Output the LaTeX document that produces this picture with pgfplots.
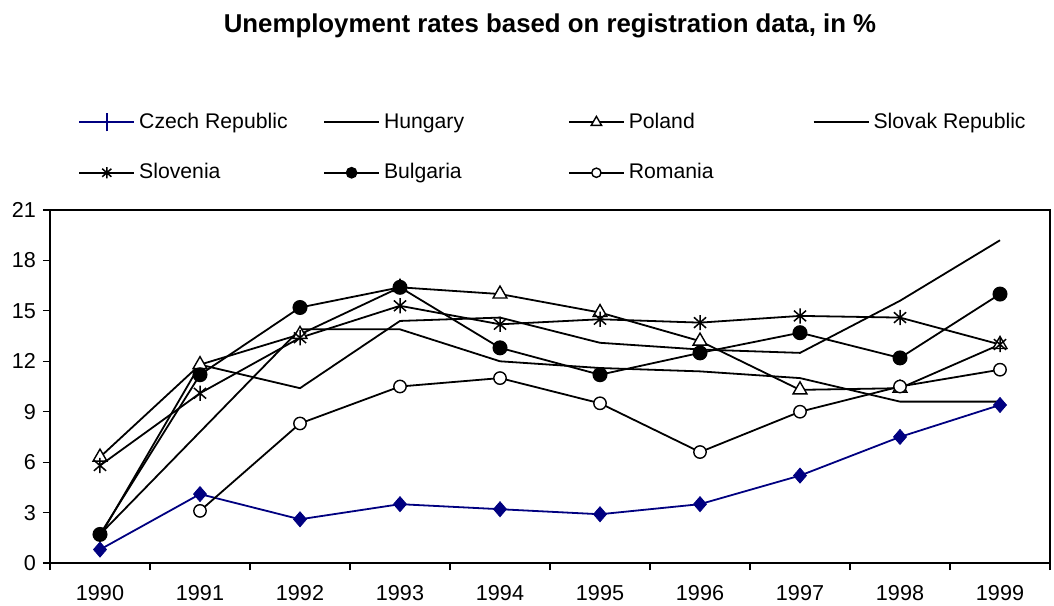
\documentclass[border=0pt]{standalone}
\usepackage{fontspec}
\setmainfont{Liberation Sans}
\usepackage{pgfplots}
\pgfplotsset{compat=1.18}
\definecolor{czech}{RGB}{0,0,128}

% Excel-like star: vertical bar plus an X
\pgfdeclareplotmark{xlstar}{%
    \pgfpathmoveto{\pgfqpoint{0pt}{\pgfplotmarksize}}%
    \pgfpathlineto{\pgfqpoint{0pt}{-\pgfplotmarksize}}%
    \pgfpathmoveto{\pgfqpoint{-.8\pgfplotmarksize}{.7\pgfplotmarksize}}%
    \pgfpathlineto{\pgfqpoint{.8\pgfplotmarksize}{-.7\pgfplotmarksize}}%
    \pgfpathmoveto{\pgfqpoint{-.8\pgfplotmarksize}{-.7\pgfplotmarksize}}%
    \pgfpathlineto{\pgfqpoint{.8\pgfplotmarksize}{.7\pgfplotmarksize}}%
    \pgfusepathqstroke}

\begin{document}
\begin{tikzpicture}
\begin{axis}[
    scale only axis,
    width=500pt, height=176.5pt,
    xmin=-0.5, xmax=9.5,
    ymin=0, ymax=21,
    xtick={-0.5,0.5,1.5,2.5,3.5,4.5,5.5,6.5,7.5,8.5,9.5},
    x tick label as interval,
    xticklabels={1990,1991,1992,1993,1994,1995,1996,1997,1998,1999},
    ytick={0,3,...,21},
    tick align=outside,
    tick pos=left,
    major tick length=3.5pt,
    axis line style={line width=0.8pt},
    tick style={line width=0.6pt, black},
    ticklabel style={font=\fontsize{10.8}{13}\selectfont},
    /pgf/number format/assume math mode=true,
    xticklabel style={yshift=-4pt},
    title={Unemployment rates based on registration data, in \%},
    title style={at={(0.5,1)}, anchor=center, yshift=86pt,
        font=\bfseries\fontsize{12.9}{15}\selectfont},
    legend columns=4,
    legend cell align=left,
    legend style={draw=none, at={(0.022,1.298)}, anchor=north west,
        font=\fontsize{10.6}{12.5}\selectfont, row sep=12pt},
    legend image code/.code={
        \draw[mark repeat=2,mark phase=2,#1,
            every mark/.append style={scale=0.75}]
            plot coordinates {(0pt,0pt) (13.75pt,0pt) (27.5pt,0pt)};},
    every axis plot/.append style={line width=0.9pt},
]

% Czech Republic
\addplot[czech, mark=diamond*, mark size=3.75pt,
    mark options={solid, fill=czech, line width=0.4pt, xscale=1.15},
    legend image code/.code={
        \draw[czech, line width=0.9pt] (0pt,0pt) -- (27.5pt,0pt);
        \draw[czech, line width=0.9pt] (13.75pt,-4.5pt) -- (13.75pt,4.5pt);}]
coordinates {
    (0,0.8) (1,4.1) (2,2.6) (3,3.5) (4,3.2)
    (5,2.9) (6,3.5) (7,5.2) (8,7.5) (9,9.4)
};
\addlegendentry{\makebox[90pt][l]{Czech Republic}}

% Hungary
\addplot[black, no markers] coordinates {
    (0,1.7) (1,7.8) (2,13.9) (3,13.9) (4,12.0)
    (5,11.6) (6,11.4) (7,11.0) (8,9.6) (9,9.6)
};
\addlegendentry{\makebox[90pt][l]{Hungary}}

% Poland
\addplot[black, mark=triangle*, mark size=4pt,
    mark options={solid, fill=white, line width=0.7pt}] coordinates {
    (0,6.3) (1,11.8) (2,13.6) (3,16.4) (4,16.0)
    (5,14.9) (6,13.2) (7,10.3) (8,10.4) (9,13.0)
};
\addlegendentry{\makebox[90pt][l]{Poland}}

% Slovak Republic
\addplot[black, no markers] coordinates {
    (0,1.6) (1,11.8) (2,10.4) (3,14.4) (4,14.6)
    (5,13.1) (6,12.7) (7,12.5) (8,15.6) (9,19.2)
};
\addlegendentry{Slovak Republic}

% Slovenia
\addplot[black, mark=xlstar, mark size=3.8pt,
    mark options={solid, line width=0.75pt}] coordinates {
    (0,5.8) (1,10.1) (2,13.4) (3,15.3) (4,14.2)
    (5,14.5) (6,14.3) (7,14.7) (8,14.6) (9,13.0)
};
\addlegendentry{\makebox[90pt][l]{Slovenia}}

% Bulgaria
\addplot[black, mark=*, mark size=3.3pt,
    mark options={solid, fill=black}] coordinates {
    (0,1.7) (1,11.2) (2,15.2) (3,16.4) (4,12.8)
    (5,11.2) (6,12.5) (7,13.7) (8,12.2) (9,16.0)
};
\addlegendentry{\makebox[90pt][l]{Bulgaria}}

% Romania
\addplot[black, mark=*, mark size=3.1pt,
    mark options={solid, fill=white, line width=0.7pt}] coordinates {
    (1,3.1) (2,8.3) (3,10.5) (4,11.0)
    (5,9.5) (6,6.6) (7,9.0) (8,10.5) (9,11.5)
};
\addlegendentry{Romania}

\end{axis}
\pgfresetboundingbox
\path ([shift={(-25pt,-21pt)}]current axis.south west)
    rectangle ([shift={(2pt,105pt)}]current axis.north east);
\end{tikzpicture}
\end{document}
